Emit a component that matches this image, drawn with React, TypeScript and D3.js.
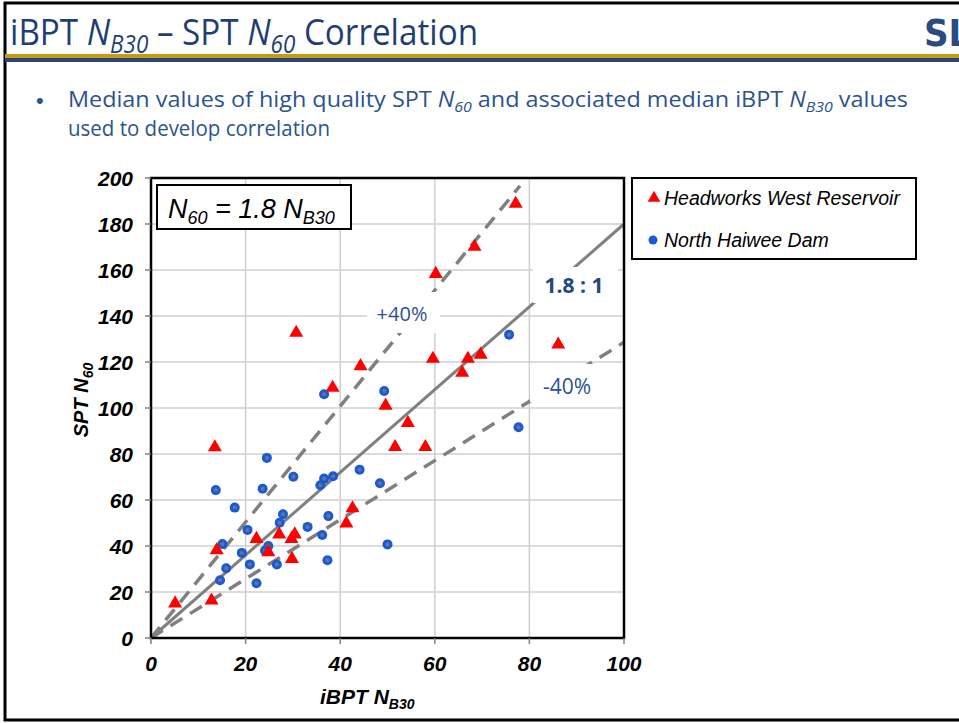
import React from "react";
import * as d3 from "d3";

const headworks: [number, number][] = [
  [5.1, 14.8], [12.8, 16.1], [13.5, 82.7], [13.9, 38], [22.3, 42.9], [24.8, 37.1],
  [27.1, 44.8], [29.7, 42.9], [30.4, 44.8], [29.8, 34.2], [30.7, 132.5], [38.4, 108.6],
  [41.3, 49.6], [42.6, 56.2], [44.3, 118], [49.6, 100.8], [51.6, 82.8], [54.3, 93.3],
  [58.0, 82.8], [59.6, 121.2], [60.2, 158.1], [65.8, 115.1], [67.0, 121.2], [68.4, 169.9],
  [69.7, 123], [77.1, 188.6], [86.1, 127.4],
];

const haiwee: [number, number][] = [
  [13.7, 64.3], [14.6, 25.1], [15.1, 40.9], [15.9, 30.3], [17.7, 56.7], [19.2, 37],
  [20.4, 47], [20.9, 32], [22.3, 23.8], [23.6, 64.9], [24.5, 78.3], [24.1, 38],
  [24.8, 40], [26.6, 32], [27.2, 50.1], [27.9, 53.8], [30.1, 70.1], [33.1, 48.3],
  [35.8, 66.4], [36.6, 69.3], [36.2, 44.8], [37.3, 33.8], [37.5, 53], [38.5, 70.3],
  [44.1, 73.2], [48.4, 67.3], [50.0, 40.7], [36.6, 106], [49.3, 107.4], [75.7, 131.9],
  [77.7, 91.6],
];

const ratio = 1.8;
const upper = ratio * 1.4;
const lower = ratio / 1.4;
const xTicks = [0, 20, 40, 60, 80, 100];
const yTicks = [0, 20, 40, 60, 80, 100, 120, 140, 160, 180, 200];

const ARIAL = "'Liberation Sans', Arial, sans-serif";
const CAL = "'Open Sans', 'Noto Sans', sans-serif";
const TITLE_BLUE = "#1F3F73";
const TEXT_BLUE = "#2B5390";

export default function App() {
  const x = d3.scaleLinear().domain([0, 100]).range([151, 624]);
  const y = d3.scaleLinear().domain([0, 200]).range([638, 178]);
  const line = d3.line<[number, number]>().x((d) => x(d[0])).y((d) => y(d[1]));
  const tri = d3.symbol().type(d3.symbolTriangle).size(85)() as string;
  const triLeg = d3.symbol().type(d3.symbolTriangle).size(70)() as string;

  return (
    <svg width={959} height={723} style={{ position: "absolute", left: 0, top: 0, background: "#fff" }}>
      <rect x={0} y={0} width={959} height={723} fill="#fff" />
      {/* slide border */}
      <rect x={5} y={3} width={1000} height={717} fill="none" stroke="#000" strokeWidth={3} />
      {/* title */}
      <text x={10} y={45} fill={TITLE_BLUE} fontFamily={CAL} fontSize={37} textLength={468} lengthAdjust="spacingAndGlyphs">
        <tspan>iBPT </tspan>
        <tspan fontStyle="italic">N</tspan>
        <tspan fontStyle="italic" fontSize={25} dy={8}>B30</tspan>
        <tspan dy={-8}> – SPT </tspan>
        <tspan fontStyle="italic">N</tspan>
        <tspan fontStyle="italic" fontSize={25} dy={8}>60</tspan>
        <tspan dy={-8}> Correlation</tspan>
      </text>
      {/* logo */}
      <text x={924} y={46} fill="#2B4A80" fontFamily="'DejaVu Sans Condensed', 'DejaVu Sans', sans-serif" fontWeight={900} fontSize={38}>SL</text>
      <rect x={5} y={54} width={960} height={4} fill="#C49B14" />
      <rect x={5} y={58} width={960} height={4} fill="#2B4474" />

      {/* bullet */}
      <text x={36} y={108} fill={TEXT_BLUE} fontFamily={ARIAL} fontSize={22}>•</text>
      <text x={68} y={107} fill={TEXT_BLUE} fontFamily={CAL} fontSize={22} textLength={840} lengthAdjust="spacingAndGlyphs">
        <tspan>Median values of high quality SPT </tspan>
        <tspan fontStyle="italic">N</tspan>
        <tspan fontStyle="italic" fontSize={15} dy={5}>60</tspan>
        <tspan dy={-5}> and associated median iBPT </tspan>
        <tspan fontStyle="italic">N</tspan>
        <tspan fontStyle="italic" fontSize={15} dy={5}>B30</tspan>
        <tspan dy={-5}> values</tspan>
      </text>
      <text x={68} y={136} fill={TEXT_BLUE} fontFamily={CAL} fontSize={22} textLength={262} lengthAdjust="spacingAndGlyphs">used to develop correlation</text>

      {/* gridlines */}
      {xTicks.slice(1, -1).map((t) => (
        <line key={"gx" + t} x1={x(t)} x2={x(t)} y1={y(0)} y2={y(200)} stroke="#CFCFCF" strokeWidth={1.5} />
      ))}
      {yTicks.slice(1, -1).map((t) => (
        <line key={"gy" + t} x1={x(0)} x2={x(100)} y1={y(t)} y2={y(t)} stroke="#CFCFCF" strokeWidth={1.5} />
      ))}

      {/* correlation lines */}
      <path d={line([[0, 0], [100, 100 * ratio]]) as string} stroke="#808080" strokeWidth={3} fill="none" />
      <path d={line([[0, 0], [78, 78 * upper]]) as string} stroke="#808080" strokeWidth={3.5} fill="none" strokeDasharray="14 9" />
      <path d={line([[0, 0], [100, 100 * lower]]) as string} stroke="#808080" strokeWidth={3.5} fill="none" strokeDasharray="14 9" />

      {/* label boxes */}
      <rect x={367} y={292} width={73} height={41} fill="#fff" />
      <text x={402} y={321} textAnchor="middle" fill={TEXT_BLUE} fontFamily={CAL} fontSize={20}>+40%</text>
      <rect x={533} y={267} width={85} height={36} fill="#fff" />
      <text x={574} y={293} textAnchor="middle" fill="#24477F" fontFamily={CAL} fontWeight={700} fontSize={21}>1.8 : 1</text>
      <rect x={530} y={364} width={67} height={38} fill="#fff" />
      <text x={567} y={394} textAnchor="middle" fill={TEXT_BLUE} fontFamily={CAL} fontSize={21}>-40%</text>

      {/* frame */}
      <rect x={x(0)} y={y(200)} width={x(100) - x(0)} height={y(0) - y(200)} fill="none" stroke="#000" strokeWidth={2.5} />
      {xTicks.map((t) => (
        <line key={"tx" + t} x1={x(t)} x2={x(t)} y1={y(0)} y2={y(0) + 6} stroke="#808080" strokeWidth={1.5} />
      ))}
      {yTicks.map((t) => (
        <line key={"ty" + t} x1={x(0) - 6} x2={x(0)} y1={y(t)} y2={y(t)} stroke="#808080" strokeWidth={1.5} />
      ))}

      {/* markers */}
      {haiwee.map((d, i) => (
        <g key={"h" + i}>
          <circle cx={x(d[0])} cy={y(d[1])} r={5} fill="#1A5AD6" />
          <circle cx={x(d[0])} cy={y(d[1])} r={2} fill="#6C7786" />
        </g>
      ))}
      {headworks.map((d, i) => (
        <path key={"w" + i} d={tri} transform={`translate(${x(d[0])},${y(d[1]) - 0.5})`} fill="#FF0000" />
      ))}

      {/* equation box */}
      <rect x={157} y={185} width={194} height={44} fill="#fff" stroke="#000" strokeWidth={2} />
      <text x={168} y={218} fontFamily={ARIAL} fontStyle="italic" fontSize={27} fill="#000">
        <tspan>N</tspan>
        <tspan fontSize={18} dy={6}>60</tspan>
        <tspan dy={-6}> = 1.8 N</tspan>
        <tspan fontSize={18} dy={6}>B30</tspan>
      </text>

      {/* legend */}
      <rect x={632} y={178} width={284} height={81} fill="#fff" stroke="#000" strokeWidth={2} />
      <path d={triLeg} transform="translate(654,198)" fill="#FF0000" />
      <text x={664} y={205} fontFamily={ARIAL} fontStyle="italic" fontSize={19.5} fill="#000">Headworks West Reservoir</text>
      <circle cx={653} cy={240} r={4.5} fill="#1A5AD6" />
      <text x={664} y={247} fontFamily={ARIAL} fontStyle="italic" fontSize={19.5} fill="#000">North Haiwee Dam</text>

      {/* tick labels */}
      {xTicks.map((t) => (
        <text key={"lx" + t} x={x(t)} y={671} textAnchor="middle" fontFamily={ARIAL} fontWeight={700} fontStyle="italic" fontSize={21} fill="#000">{t}</text>
      ))}
      {yTicks.map((t) => (
        <text key={"ly" + t} x={133} y={y(t) + 7.5} textAnchor="end" fontFamily={ARIAL} fontWeight={700} fontStyle="italic" fontSize={21} fill="#000">{t}</text>
      ))}

      {/* axis titles */}
      <text x={320} y={704} fontFamily={ARIAL} fontWeight={700} fontStyle="italic" fontSize={21} fill="#000">
        <tspan>iBPT N</tspan>
        <tspan fontSize={14} dy={5}>B30</tspan>
      </text>
      <text transform="translate(88,400) rotate(-90)" textAnchor="middle" fontFamily={ARIAL} fontWeight={700} fontStyle="italic" fontSize={20} fill="#000">
        <tspan>SPT N</tspan>
        <tspan fontSize={14} dy={5}>60</tspan>
      </text>
    </svg>
  );
}
